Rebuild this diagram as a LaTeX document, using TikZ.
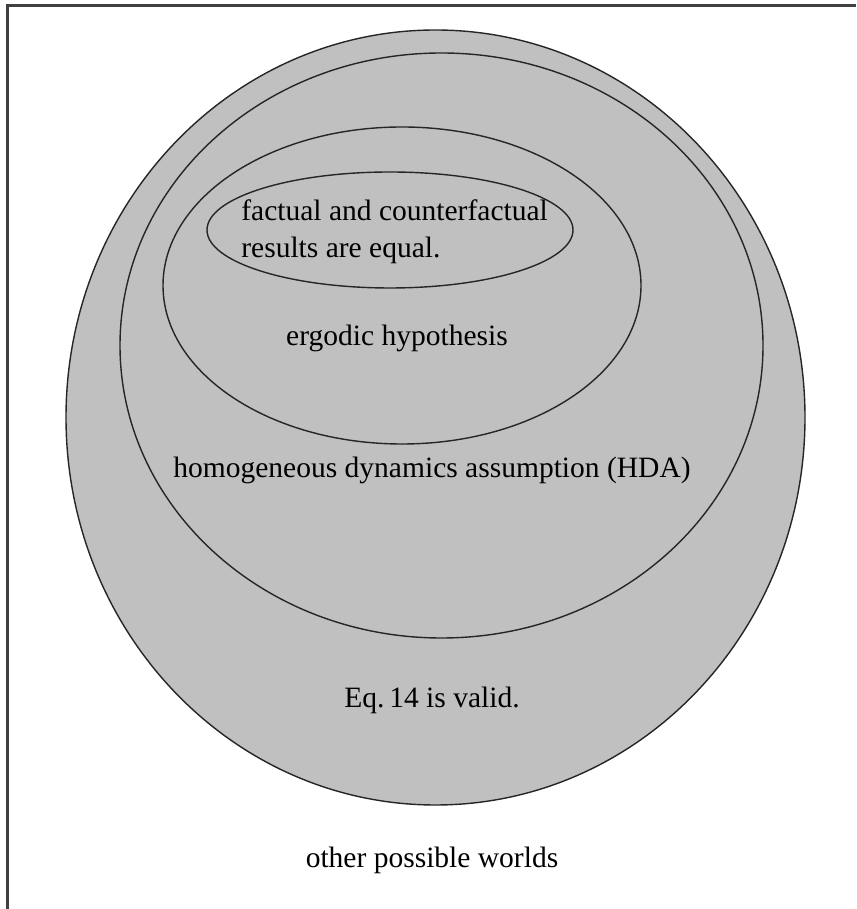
\documentclass[tikz,border=0pt]{standalone}
\usepackage{fontspec}
\setmainfont{Liberation Serif}
\definecolor{setgray}{RGB}{192,192,192}

\begin{document}
\begin{tikzpicture}[x=0.02cm,y=0.02cm,
  setline/.style={draw=black!85,line width=0.8pt,fill=setgray},
  lbl/.style={inner sep=0pt,font=\fontsize{16.8}{21}\selectfont}]
\useasboundingbox (0,0) rectangle (856,909);
\draw[black!75,line width=1.2pt] (7.5,0) -- (7.5,903.5) -- (856,903.5);
% nested sets
\draw[setline] (435.5,491.5) ellipse (369.5 and 387.5);
\draw[setline] (441.5,563.5) ellipse (321.5 and 292.5);
\draw[setline] (402,623.5) ellipse (239 and 158.5);
\draw[setline] (390,679) ellipse (183 and 58);
% labels
\node[lbl,anchor=west,align=left] (equal) at (241,677.5) {factual and counterfactual\\results are equal.};
\node[lbl] (ergodic) at (397,571) {ergodic hypothesis};
\node[lbl] (hda) at (432,439) {homogeneous dynamics assumption (HDA)};
\node[lbl] (eq) at (432,209) {Eq.\,14 is valid.};
\node[lbl] (other) at (432,49) {other possible worlds};
\end{tikzpicture}
\end{document}
